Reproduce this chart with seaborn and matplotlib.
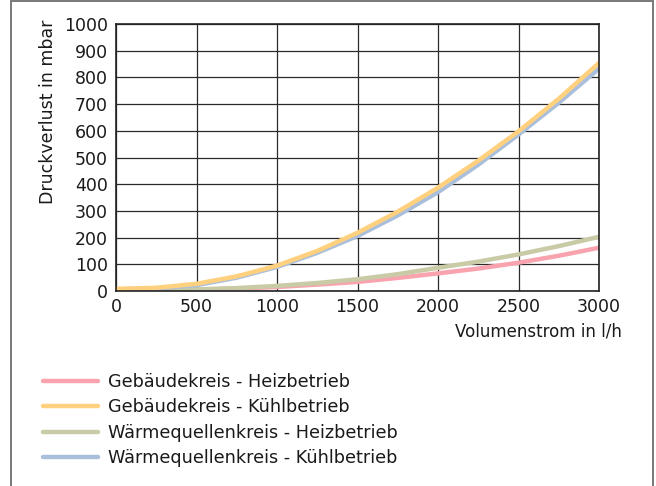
import pandas as pd
import seaborn as sns
import matplotlib.pyplot as plt
from matplotlib.patches import Rectangle

# Volumenstrom in l/h
volumenstrom = [0, 250, 500, 750, 1000, 1250, 1500, 1750, 2000, 2250, 2500, 2750, 3000]

# Druckverlust in mbar
gebaeude_heiz = [3, 3, 5, 9, 15, 24, 34, 49, 66, 84, 106, 132, 162]
gebaeude_kuehl = [8, 12, 27, 55, 95, 150, 218, 297, 387, 488, 598, 720, 854]
quelle_heiz = [3, 3, 6, 11, 19, 30, 44, 63, 87, 110, 137, 168, 203]
quelle_kuehl = [6, 10, 22, 50, 90, 143, 206, 283, 370, 473, 586, 705, 833]

series_names = [
    "Gebäudekreis - Heizbetrieb",
    "Gebäudekreis - Kühlbetrieb",
    "Wärmequellenkreis - Heizbetrieb",
    "Wärmequellenkreis - Kühlbetrieb",
]
series_colors = ["#F9A3AE", "#FFD07E", "#C9CAA6", "#A9BFDC"]

x_ticks = [0, 500, 1000, 1500, 2000, 2500, 3000]
y_ticks = list(range(0, 1001, 100))

rows = []
for name, vals in zip(series_names, [gebaeude_heiz, gebaeude_kuehl, quelle_heiz, quelle_kuehl]):
    for x, y in zip(volumenstrom, vals):
        rows.append({"Volumenstrom": x, "Druckverlust": y, "Kreis": name})
df = pd.DataFrame(rows)

sns.set_style("white")
plt.rcParams["font.family"] = ["DejaVu Sans"]

fig = plt.figure(figsize=(6.56, 4.86), dpi=100)
ax = fig.add_axes([116 / 656, 1 - 291 / 486, (599 - 116) / 656, (291 - 24) / 486])

# outer frame (bottom edge runs off the picture)
fig.patches.append(Rectangle((11 / 656, -0.02), 642 / 656, 1.0 - 1 / 486 + 0.02,
                             transform=fig.transFigure, fill=False,
                             edgecolor="#6e6e6e", linewidth=1.3))

# draw in an order so blue sits under orange like the reference
order = [0, 2, 3, 1]
for i in order:
    sub = df[df["Kreis"] == series_names[i]]
    sns.lineplot(data=sub, x="Volumenstrom", y="Druckverlust", ax=ax,
                 color=series_colors[i], linewidth=3.2, label=series_names[i],
                 legend=False)

ax.set_xlim(0, 3000)
ax.set_ylim(0, 1000)
ax.set_xticks(x_ticks)
ax.set_yticks(y_ticks)
ax.grid(True, color="#2b2b2b", linewidth=0.9)
ax.set_axisbelow(True)
for s in ax.spines.values():
    s.set_color("#222222")
    s.set_linewidth(1.2)
ax.tick_params(length=0, labelsize=12.5, colors="#1a1a1a", pad=6)
ax.tick_params(axis="x", pad=5)

ax.set_xlabel("")
ax.set_ylabel("Druckverlust in mbar", fontsize=12.5, color="#1a1a1a")
ax.yaxis.set_label_coords(-0.122, 1.015)
ax.yaxis.label.set_ha("right")
fig.text(622 / 656, 1 - 332 / 486, "Volumenstrom in l/h", ha="right", va="center",
         fontsize=12, color="#1a1a1a")

handles = {h.get_label(): h for h in ax.get_lines()}
ax.legend([handles[n] for n in series_names], series_names,
          loc="upper left", bbox_to_anchor=(27 / 656, 1 - 357 / 486),
          bbox_transform=fig.transFigure, frameon=False, fontsize=12.7,
          handlelength=3.1, handletextpad=0.6, labelspacing=0.42,
          labelcolor="#1a1a1a")

plt.savefig("out.png", dpi=100)
plt.close()
